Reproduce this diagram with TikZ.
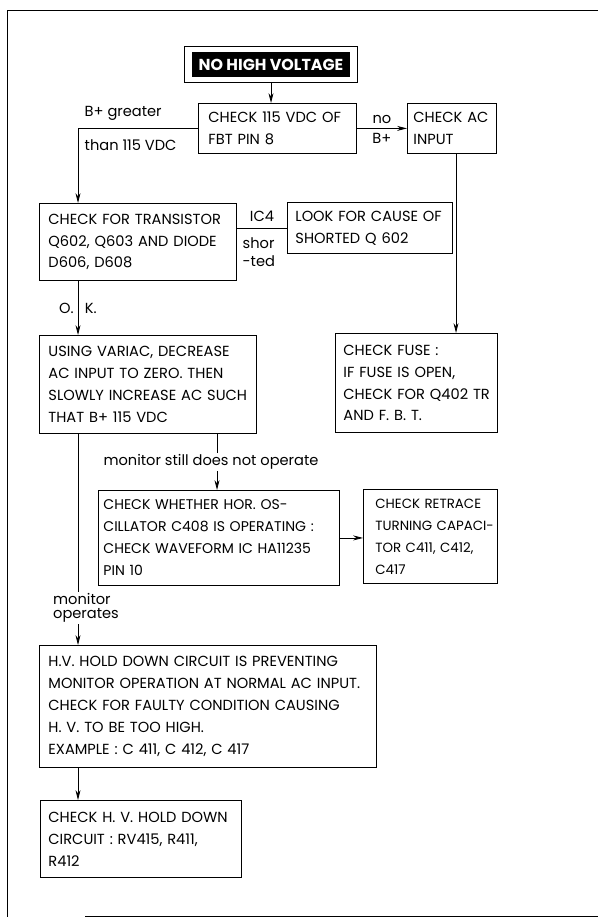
\documentclass[tikz,border=0pt]{standalone}
\usepackage{fontspec}
\setmainfont{Poppins}
\usetikzlibrary{positioning,arrows.meta,calc,fit}

\begin{document}
\begin{tikzpicture}[x=0.025cm, y=-0.025cm,
    every node/.style={font=\fontsize{10.4}{15.6}\selectfont},
    box/.style={draw, line width=0.6pt, anchor=north west, align=left, inner xsep=1pt, inner ysep=0pt},
    inset/.style={execute at begin node={\leftskip=#1\relax}},
    lbl/.style={inner sep=1pt},
    link/.style={line width=0.6pt},
    arr/.style={link, -{Stealth[length=7pt, width=3.5pt]}}]
  \useasboundingbox (0,0) rectangle (598,919);
  % page frame
  \draw[link] (598,10) -- (7,10) -- (7,917);
  \draw[link] (85,916) -- (598,916);
  % title
  \node[fill=black, text=white, font=\fontsize{11.3}{12}\selectfont\bfseries, minimum width=3.95cm, minimum height=0.625cm] (title) at (271,64.5) {NO HIGH VOLTAGE};
  \node[draw, line width=0.6pt, fit=(title), inner xsep=0.175cm, inner ysep=0.125cm] (titlebox) {};
  % boxes
  \node[box, inset=0.215cm, text width=3.88cm, minimum height=1.25cm] (fbt) at (198,103) {CHECK 115 VDC OF\\FBT PIN 8};
  \node[box, inset=0.115cm, text width=2.155cm, minimum height=1.25cm] (acin) at (407,103) {CHECK AC\\INPUT};
  \node[box, inset=0.19cm, text width=4.855cm, minimum height=1.925cm] (trans) at (39,203) {CHECK FOR TRANSISTOR\\Q602, Q603 AND DIODE\\D606, D608};
  \node[box, inset=0.165cm, text width=4.055cm, minimum height=1.275cm] (cause) at (287,202) {LOOK FOR CAUSE OF\\SHORTED Q 602};
  \node[box, inset=0.165cm, text width=3.98cm, minimum height=2.475cm] (fuse) at (335,333) {CHECK FUSE :\\IF FUSE IS OPEN,\\CHECK FOR Q402 TR\\AND F. B. T.};
  \node[box, inset=0.19cm, text width=5.355cm, minimum height=2.45cm] (variac) at (39,335) {USING VARIAC, DECREASE\\AC INPUT TO ZERO. THEN\\SLOWLY INCREASE AC SUCH\\THAT B+ 115 VDC};
  \node[box, inset=0.09cm, text width=5.955cm, minimum height=2.375cm, font=\fontsize{10}{15.6}\selectfont] (hosc) at (98,490) {CHECK WHETHER HOR. OS-\\CILLATOR C408 IS OPERATING :\\CHECK WAVEFORM IC HA11235\\PIN 10};
  \node[box, inset=0.265cm, text width=3.28cm, minimum height=2.35cm, font=\fontsize{9.5}{15.6}\selectfont] (retrace) at (363,489) {CHECK RETRACE\\TURNING CAPACI-\\TOR C411, C412,\\C417};
  \node[box, inset=0.19cm, text width=8.355cm, minimum height=3.05cm] (hvhold) at (39,645) {H.V. HOLD DOWN CIRCUIT IS PREVENTING\\MONITOR OPERATION AT NORMAL AC INPUT.\\CHECK FOR FAULTY CONDITION CAUSING\\H. V. TO BE TOO HIGH.\\EXAMPLE : C 411, C 412, C 417};
  \node[box, inset=0.165cm, text width=4.955cm, minimum height=1.925cm] (hvchk) at (40,800) {CHECK H. V. HOLD DOWN\\CIRCUIT : RV415, R411,\\R412};
  % columns of the connectors
  \coordinate (lcol) at (78,0);
  \coordinate (mcol) at (217,0);
  \coordinate (rcol) at (456,0);
  % labels
  \node[lbl, anchor=west] (bgreater) at (83,113) {B+ greater};
  \node[lbl, anchor=west] (bthan) at (83,145) {than 115 VDC};
  \node[lbl, anchor=north west, align=left, font=\fontsize{10.4}{12.8}\selectfont] (shorted) at (241,236) {shor\\-ted};
  \node[lbl] (still) at (211,462) {monitor still does not operate};
  \node[lbl, align=left, font=\fontsize{10.4}{10}\selectfont] (works) at (86,608) {monitor\\operates};
  % connectors
  \draw[arr] (titlebox.south) -- (titlebox.south |- fbt.north);
  \draw[arr] (fbt.east) -- node[lbl, above=2pt] (nolbl) {no} node[lbl, below=2pt] (bplbl) {B+} (acin.west);
  \draw[arr] (fbt.west) -| (lcol |- trans.north);
  \draw[link] (trans.east |- cause.west) -- node[lbl, above=3pt] (iclbl) {IC4} (cause.west);
  \draw[arr] (acin.south -| rcol) -- (rcol |- fuse.north);
  \draw[arr] (trans.south -| lcol) -- node[lbl] (oklbl) {O.\hspace{8pt}K.} (variac.north -| lcol);
  \draw[link] (variac.south -| mcol) -- (mcol |- still.north);
  \draw[arr] (mcol |- still.south) -- (mcol |- hosc.north);
  \draw[arr] (hosc.east) -- (hosc.east -| retrace.west);
  \draw[link] (variac.south -| lcol) -- (lcol |- works.north);
  \draw[arr] (lcol |- works.south) -- (lcol |- hvhold.north);
  \draw[arr] (hvhold.south -| lcol) -- (lcol |- hvchk.north);
\end{tikzpicture}
\end{document}
